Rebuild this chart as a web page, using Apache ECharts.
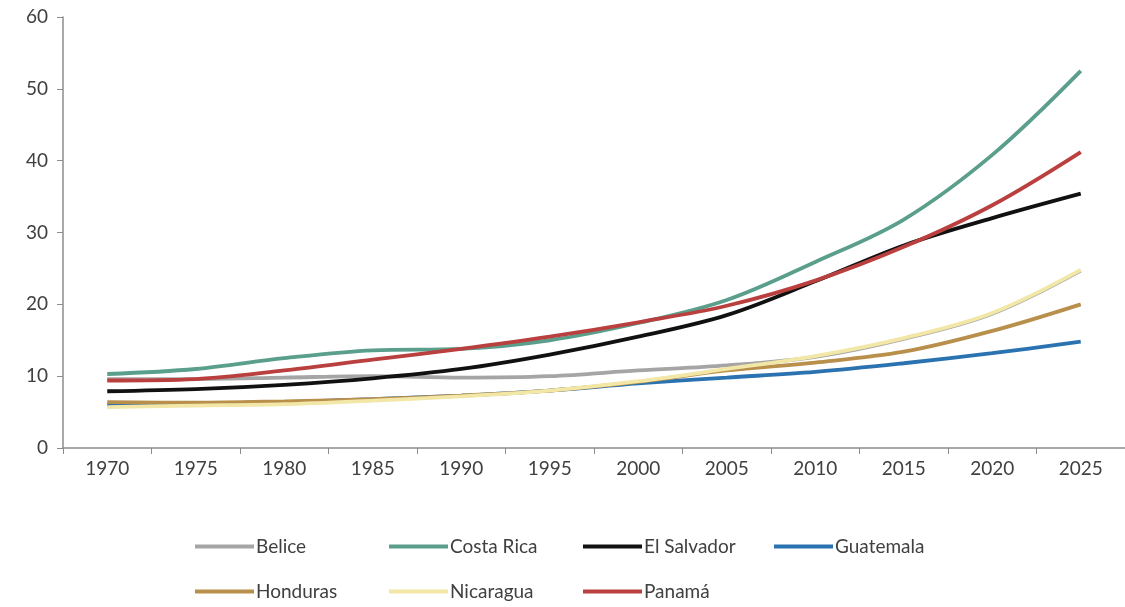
<!DOCTYPE html>
<html><head><meta charset="utf-8">
<script src="https://cdn.jsdelivr.net/npm/echarts@6/dist/echarts.min.js"></script>
<style>html,body{margin:0;padding:0;background:#fff}#c{width:1125px;height:607px}</style>
</head><body><div id="c"></div>
<script>
var years = ['1970','1975','1980','1985','1990','1995','2000','2005','2010','2015','2020','2025'];
var yTicks = [0,10,20,30,40,50,60];
var belice     = [9.6, 9.6, 9.8, 10.0, 9.8, 10.0, 10.8, 11.5, 12.7, 15.2, 18.7, 24.7];
var costaRica  = [10.3, 11.0, 12.5, 13.6, 13.8, 15.0, 17.4, 20.6, 25.9, 31.8, 40.8, 52.5];
var elSalvador = [7.9, 8.2, 8.8, 9.7, 11.0, 13.0, 15.5, 18.5, 23.2, 28.2, 32.0, 35.4];
var guatemala  = [6.0, 6.2, 6.4, 6.8, 7.3, 8.0, 9.0, 9.8, 10.6, 11.8, 13.2, 14.8];
var honduras   = [6.4, 6.3, 6.5, 6.8, 7.3, 8.0, 9.2, 10.8, 11.9, 13.4, 16.3, 20.0];
var nicaragua  = [5.7, 5.9, 6.1, 6.6, 7.2, 8.0, 9.3, 11.0, 12.8, 15.3, 18.8, 24.8];
var panama     = [9.4, 9.6, 10.8, 12.3, 13.8, 15.5, 17.5, 19.8, 23.3, 28.0, 33.8, 41.2];

var names = ['Belice','Costa Rica','El Salvador','Guatemala','Honduras','Nicaragua','Panamá'];
var values = [belice, costaRica, elSalvador, guatemala, honduras, nicaragua, panama];
var colors = ['#a5a5a5','#5a9e8c','#111111','#2a72b0','#b98f4c','#f2e7a6','#b9403f'];
var legendPos = [[195,537],[389,537],[583,537],[774,537],[195,582],[389,582],[583,582]];

var font = 'Lato, "Open Sans", sans-serif';
var series = names.map(function(n,i){
  return {name:n, type:'line', data:values[i], smooth:0.35, symbol:'none',
    lineStyle:{color:colors[i], width:3.8}, itemStyle:{color:colors[i]}, z:2+i};
});
var legends = names.map(function(n,i){
  return {data:[{name:n, icon:'rect'}], left:legendPos[i][0], top:legendPos[i][1], itemWidth:59, itemHeight:4, itemGap:0,
    itemStyle:{color:colors[i]},
    textStyle:{fontFamily:font, fontSize:19, color:'#404040', padding:[0,0,0,-3]}, padding:0, selectedMode:false};
});
var chart = echarts.init(document.getElementById('c'));
chart.setOption({
  animation:false,
  grid:{left:63, top:17, width:1068, bottom:159},
  legend: legends,
  xAxis:{type:'category', data:years, boundaryGap:true,
    axisLine:{lineStyle:{color:'#8c8c8c', width:1.5}},
    axisTick:{show:true, length:6, lineStyle:{color:'#8c8c8c'}},
    axisLabel:{fontFamily:font, fontSize:19, color:'#404040', margin:11}},
  yAxis:{type:'value', min:0, max:60, interval:10,
    axisLine:{show:true, lineStyle:{color:'#8c8c8c', width:1.5}},
    axisTick:{show:true, length:6, lineStyle:{color:'#8c8c8c'}},
    splitLine:{show:false},
    axisLabel:{fontFamily:font, fontSize:19, color:'#404040', margin:15}},
  series: series
});
</script></body></html>
